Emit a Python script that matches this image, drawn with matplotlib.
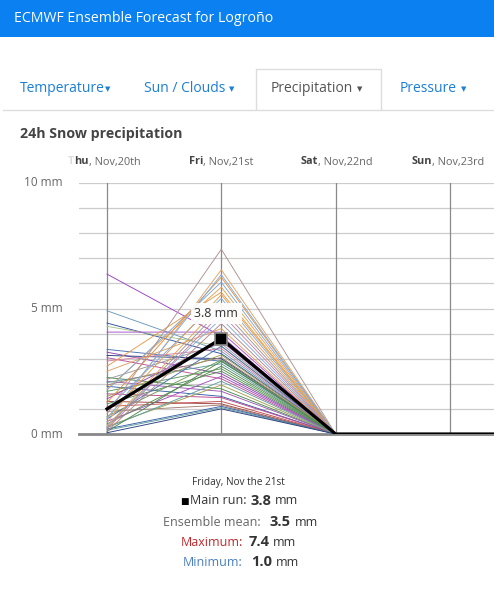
import matplotlib
matplotlib.use("Agg")
import matplotlib.pyplot as plt
import matplotlib.transforms as mtrans
from matplotlib.patches import Rectangle
from matplotlib.lines import Line2D
from matplotlib.text import Annotation

# ---------------- data ----------------
day_bold = ["Thu", "Fri", "Sat", "Sun"]
day_rest = [", Nov,20th", ", Nov,21st", ", Nov,22nd", ", Nov,23rd"]
day_pos = [0, 1, 2, 3, 4]

ensemble_thu = [6.37, 4.91, 4.42, 4.29, 4.06, 3.37, 3.26, 3.13, 3.04, 2.91,
                2.70, 2.50, 2.25, 2.18, 2.10, 2.05, 1.95, 1.90, 1.80, 1.75,
                1.70, 1.60, 1.50, 1.40, 1.30, 1.25, 1.20, 1.10, 1.00, 0.95,
                0.90, 0.80, 0.70, 0.65, 0.60, 0.50, 0.45, 0.40, 0.35, 0.30,
                0.30, 0.25, 0.25, 0.20, 0.20, 0.15, 0.10, 0.10, 0.05, 0.60]
ensemble_fri = [3.90, 3.30, 3.20, 3.50, 4.06, 2.90, 2.40, 3.00, 2.20, 3.40,
                5.65, 4.20, 1.80, 3.60, 1.70, 2.80, 3.05, 1.50, 5.85, 6.05,
                2.60, 1.45, 3.15, 3.70, 1.20, 6.25, 2.50, 1.30, 5.40, 3.85,
                1.15, 7.36, 2.95, 5.55, 3.50, 2.30, 6.54, 2.70, 4.60, 1.95,
                5.20, 2.10, 5.00, 1.10, 4.80, 1.05, 2.90, 4.40, 1.00, 6.35]
ensemble_sat = [0.0] * 50
ensemble_sun = [0.0] * 50

main_run = [1.0, 3.8, 0.0, 0.0, 0.0]

summary_day = "Friday, Nov the 21st"
main_val, mean_val, max_val, min_val = 3.8, 3.5, 7.4, 1.0

y_ticks = [0, 5, 10]

# ---------------- style ----------------
palette = ["#9b3fc4", "#6a9ab8", "#2f4f9e", "#a6c48a", "#a64fc8", "#4a6fb0",
           "#8e44ad", "#2c3e80", "#c0509a", "#d87fa0", "#e89a4a", "#e0a060",
           "#4c8a4c", "#999999", "#9b59b6", "#5f9ea0", "#a07870", "#3a5fa8",
           "#e8a050", "#7fa8d8", "#5a9a5a", "#c04890", "#9aa050", "#a040c0",
           "#a04040", "#e09040", "#5a8a5a", "#c05050", "#80a8d8", "#8e44ad",
           "#a08070", "#b09090", "#6a9a5a", "#e0a050", "#4a70b0", "#a050c0",
           "#e8a060", "#5a8a50", "#80b0e0", "#a0a050", "#e8a050", "#5f9ea0",
           "#999999", "#3a5fa8", "#d080a0", "#5f9ea0", "#4c8a4c", "#b08890",
           "#2c3e80", "#80b0e0"]

W, H = 494, 605
plt.rcParams["font.family"] = ["Open Sans", "DejaVu Sans"]
fig = plt.figure(figsize=(W / 100, H / 100), dpi=100)


def T(x, y, s, **kw):
    return fig.text(x / W, 1 - y / H, s, **kw)


def chain(prev, s, gap=0, dy=0, **kw):
    a = Annotation(s, xy=(1, 0.5), xycoords=prev, xytext=(gap, dy),
                   textcoords="offset pixels", ha="left", va="center", **kw)
    fig.add_artist(a)
    return a


# header bar
fig.patches.append(Rectangle((0, 1 - 37 / H), 1, 37 / H, transform=fig.transFigure,
                             facecolor="#0b80f0", edgecolor="none"))
T(14, 18.5, "ECMWF Ensemble Forecast for Logroño", color="white", fontsize=10.2,
  va="center", ha="left")

# tabs
fig.lines.append(Line2D([3 / W, 255 / W], [1 - 109.5 / H] * 2, transform=fig.transFigure,
                        color="#dddddd", lw=1))
fig.lines.append(Line2D([381 / W, 1], [1 - 109.5 / H] * 2, transform=fig.transFigure,
                        color="#dddddd", lw=1))
fig.patches.append(Rectangle((255.5 / W, 1 - 110 / H), 125.5 / W, 41.5 / H,
                             transform=fig.transFigure, facecolor="white",
                             edgecolor="#dddddd", lw=1))
tab_blue = "#1b7fd8"
tabfs = 10
for x0, label, col, gap in [(20, "Temperature", tab_blue, 0),
                            (144, "Sun / Clouds", tab_blue, 4),
                            (271, "Precipitation", "#555555", 4),
                            (400, "Pressure", tab_blue, 4)]:
    t = T(x0, 89, label, color=col, fontsize=tabfs, va="center")
    chain(t, "\u25BC", gap=gap, dy=0, color=col, fontsize=5, family="DejaVu Sans")

# title
T(20, 134, "24h Snow precipitation", color="#444444", fontsize=10.2, fontweight="bold",
  va="center")

# axes
ax = fig.add_axes([79 / W, 1 - 434 / H, (494 - 79) / W, (434 - 183) / H])
ax.set_xlim(-0.245, 3.386)
ax.set_ylim(0, 10)
for s in ax.spines.values():
    s.set_visible(False)
ax.set_xticks([])
ax.set_yticks([])
for yv in range(1, 11):
    ax.axhline(yv, color="#cccccc", lw=0.9, zorder=0)
for xv in day_pos[:4]:
    ax.axvline(xv, color="#8a8a8a", lw=0.9, zorder=0)
ax.axhline(0, color="#888888", lw=2.0, zorder=1, clip_on=False)

for i in range(len(ensemble_thu)):
    vals = [ensemble_thu[i], ensemble_fri[i], ensemble_sat[i], ensemble_sun[i]]
    ax.plot(day_pos[:4], vals, color=palette[i % len(palette)], lw=0.65, zorder=2)

ax.plot(day_pos, main_run, color="black", lw=2.3, zorder=4,
        solid_joinstyle="miter")
ax.plot([day_pos[1]], [main_run[1]], marker="s", markersize=8.5, color="black",
        markeredgecolor="#8a8a8a", markeredgewidth=1.2, zorder=5, linestyle="none",
        clip_on=False)

ax.annotate(f"{main_run[1]:.1f} mm", xy=(day_pos[1], main_run[1]),
            xytext=(-5, 25), textcoords="offset pixels", ha="center", va="center",
            fontsize=9, color="#333333", zorder=6,
            bbox=dict(boxstyle="square,pad=0.3", facecolor="white", edgecolor="none",
                      alpha=0.9))

# y labels
for yv in y_ticks:
    ax.text(-0.245 - 16 / 114.3, yv, f"{yv} mm", ha="right", va="center",
            fontsize=8.5, color="#666666")

# x labels
off = mtrans.ScaledTranslation(0, 21 / 100, fig.dpi_scale_trans)
xfs = 7.8
for xv, b, r in zip(day_pos, day_bold, day_rest):
    jx = xv - 18 / 114.3
    if b == "Thu":
        hu = ax.text(jx, 10, "hu", ha="right", va="center", fontsize=xfs,
                     fontweight="bold", color="#444444",
                     transform=ax.transData + off)
        ax.annotate("T", xy=(0, 0.5), xycoords=hu, ha="right", va="center",
                    fontsize=xfs, fontweight="bold", color="#dddddd")
    else:
        ax.text(jx, 10, b, ha="right", va="center", fontsize=xfs,
                fontweight="bold", color="#444444", transform=ax.transData + off)
    ax.text(jx, 10, r, ha="left", va="center", fontsize=xfs, color="#666666",
            transform=ax.transData + off)

# summary
lfs, vfs = 9.0, 10.5
T(238, 482, summary_day, ha="center", va="center", fontsize=7.2, color="#333333")
T(180, 501.5, "\u25A0", ha="left", va="center", fontsize=6.5, color="black",
  family="DejaVu Sans")
t = T(190, 501, "Main run:", ha="left", va="center", fontsize=lfs, color="#333333")
t = chain(t, f"{main_val:.1f}", gap=4, fontsize=vfs, fontweight="bold", color="#333333")
chain(t, "mm", gap=4, fontsize=lfs, color="#333333")

t = T(163, 522, "Ensemble mean:", ha="left", va="center", fontsize=lfs, color="#666666")
t = chain(t, f"{mean_val:.1f}", gap=9, fontsize=vfs, fontweight="bold", color="#333333")
chain(t, "mm", gap=4, fontsize=lfs, color="#333333")

t = T(181, 542, "Maximum:", ha="left", va="center", fontsize=lfs, color="#c0282d")
t = chain(t, f"{max_val:.1f}", gap=5, fontsize=vfs, fontweight="bold", color="#333333")
chain(t, "mm", gap=4, fontsize=lfs, color="#333333")

t = T(183, 562, "Minimum:", ha="left", va="center", fontsize=lfs, color="#4a7fc0")
t = chain(t, f"{min_val:.1f}", gap=8, fontsize=vfs, fontweight="bold", color="#333333")
chain(t, "mm", gap=4, fontsize=lfs, color="#333333")

fig.savefig("out.png", dpi=100)
